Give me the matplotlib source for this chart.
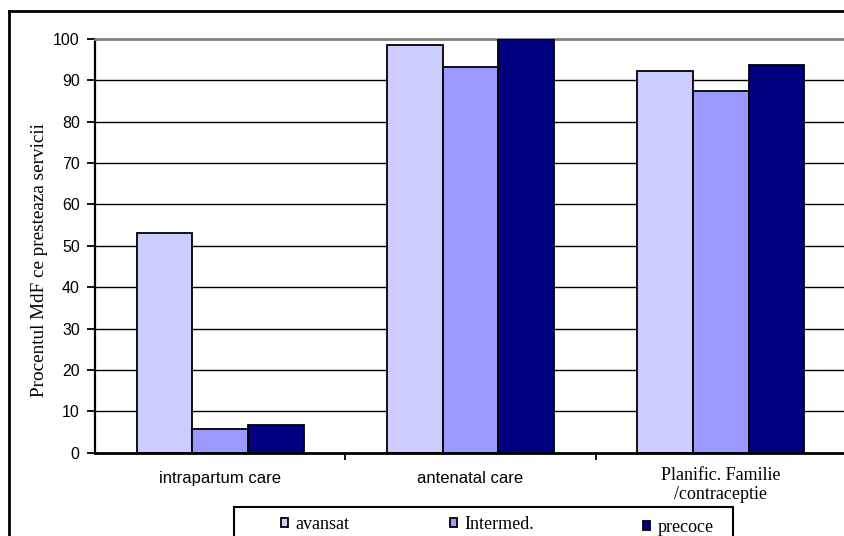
import numpy as np
import matplotlib
matplotlib.use("Agg")
import matplotlib.pyplot as plt
from matplotlib.patches import Patch, Rectangle
from matplotlib.lines import Line2D
from matplotlib import transforms

# Data
categories = ["intrapartum care", "antenatal care", "Planific. Familie\n/contraceptie"]
series_names = ["avansat", "Intermed.", "precoce"]
avansat = [53.2, 98.6, 92.2]
intermed = [5.6, 93.2, 87.4]
precoce = [6.6, 100.0, 93.6]
y_ticks = [0, 10, 20, 30, 40, 50, 60, 70, 80, 90, 100]

colors = ["#CCCCFF", "#9999FF", "#000080"]
SANS = "Liberation Sans"
SERIF = "Liberation Serif"

W, H = 844, 536
fig = plt.figure(figsize=(W / 100, H / 100), dpi=100)
fig.patch.set_facecolor("white")

# plot area in pixel terms
left_px, right_px, top_px, bottom_px = 95, 846, 39, 452.6
ax = fig.add_axes([left_px / W, (H - bottom_px) / H,
                   (right_px - left_px) / W, (bottom_px - top_px) / H])

x = np.arange(len(categories))
bw = 0.222
for i, (vals, name) in enumerate(zip([avansat, intermed, precoce], series_names)):
    ax.bar(x + (i - 1) * bw, vals, width=bw, color=colors[i],
           edgecolor="black", linewidth=1.3, label=name, zorder=3)

ax.set_xlim(-0.5, 2.5)
ax.set_ylim(0, 100)

# horizontal gridlines
for v in y_ticks[1:-1]:
    ax.axhline(v, color="black", linewidth=1.0, zorder=1)

ax.spines["right"].set_visible(False)
ax.spines["top"].set_color("#808080")
ax.spines["top"].set_linewidth(2.0)
ax.spines["left"].set_linewidth(1.6)
ax.spines["bottom"].set_linewidth(2.0)
ax.spines["bottom"].set_zorder(4)

# y axis
ax.set_yticks(y_ticks)
ax.tick_params(axis="y", direction="out", length=6, width=1.3, pad=5,
               labelsize=11.5)
for lab in ax.get_yticklabels():
    lab.set_fontfamily(SANS)

# x axis: tick marks at group boundaries, labels at group centres
ax.set_xticks([0.5, 1.5])
ax.set_xticklabels(["", ""])
ax.tick_params(axis="x", which="major", direction="out", length=5, width=1.3)
ax.set_xticks(x, minor=True)
ax.set_xticklabels(categories, minor=True)
ax.tick_params(axis="x", which="minor", length=0, pad=13)
xlabs = ax.get_xticklabels(minor=True)
for lab in xlabs[:2]:
    lab.set_fontfamily(SANS)
    lab.set_fontsize(12)
last = xlabs[2]
last.set_fontfamily(SERIF)
last.set_fontsize(13)
last.set_linespacing(1.2)
last.set_transform(last.get_transform() +
                   transforms.ScaledTranslation(0, 4 / 100, fig.dpi_scale_trans))
clip = transforms.TransformedBbox(
    transforms.Bbox.from_extents(0, 1 - 507 / H, 1, 1), fig.transFigure)
last.set_clip_box(clip)
last.set_clip_on(True)

# y axis title
fig.text(40 / W, 1 - 260 / H, "Procentul MdF ce presteaza servicii",
         rotation=90, ha="center", va="center", fontfamily=SERIF, fontsize=13.8)

# chart border
fig.add_artist(Line2D([9 / W, 9 / W], [-0.1, 1 - 11 / H], color="black",
                      linewidth=2, transform=fig.transFigure))
fig.add_artist(Line2D([9 / W, 1.1], [1 - 11 / H, 1 - 11 / H], color="black",
                      linewidth=2, transform=fig.transFigure))

# legend frame and entries
fig.add_artist(Rectangle((234 / W, -0.05), (733 - 234) / W, 0.05 + 1 - 507 / H,
                         transform=fig.transFigure, facecolor="white",
                         edgecolor="black", linewidth=1.5, zorder=9))
entry_x = [281, 450, 643]
entry_y = [516, 516, 519]
for c, name, ex, ey in zip(colors, series_names, entry_x, entry_y):
    leg = fig.legend([Patch(facecolor=c, edgecolor="black", linewidth=1.3)], [name],
                     loc="upper left", bbox_to_anchor=(ex / W, 1 - ey / H),
                     frameon=False, borderaxespad=0, borderpad=0,
                     handlelength=0.4, handleheight=0.4, handletextpad=0.4,
                     prop={"family": SERIF, "size": 13})
    leg.set_zorder(10)

fig.savefig("out.png", dpi=100, facecolor="white")
